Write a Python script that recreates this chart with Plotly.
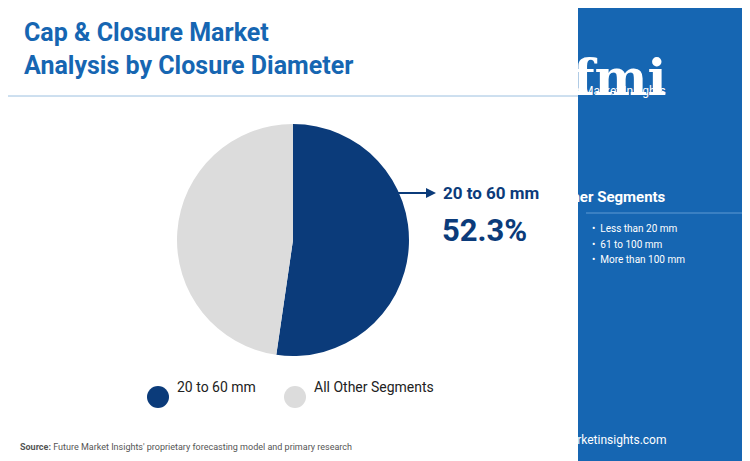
import plotly.graph_objects as go

labels = ["20 to 60 mm", "All Other Segments"]
values = [52.3, 47.7]
colors = ["#0b3b7a", "#dcdcdc"]
other_segments = ["Less than 20 mm", "61 to 100 mm", "More than 100 mm"]

W, H = 750, 461
def px(x): return x / W
def py(y): return 1 - y / H

fig = go.Figure()
cx, cy, r = 285, 232, 116
fig.add_trace(go.Pie(labels=labels, values=values, marker=dict(colors=colors, line=dict(width=0)),
                     sort=False, direction="clockwise", rotation=0, textinfo="none",
                     hoverinfo="label+percent", showlegend=False,
                     domain=dict(x=[px(cx - r), px(cx + r)], y=[py(cy + r), py(cy - r)])))

shapes = []
ann = []
shapes.append(dict(type="rect", xref="paper", yref="paper", x0=px(570), x1=1, y0=py(461), y1=1,
                   fillcolor="#1666b2", line=dict(width=0), layer="below"))
shapes.append(dict(type="line", xref="paper", yref="paper", x0=0, x1=px(570), y0=py(88), y1=py(88),
                   line=dict(color="#9cc0e0", width=1)))
for x0, x1, c in [(0, 190, "#7cb342"), (190, 380, "#e8572a"), (380, 570, "#8e2b8e")]:
    shapes.append(dict(type="rect", xref="paper", yref="paper", x0=px(x0), x1=px(x1), y0=0, y1=py(456),
                       fillcolor=c, line=dict(width=0)))
ann.append(dict(x=px(428), y=py(185), ax=-40, ay=0, xref="paper", yref="paper",
                axref="pixel", ayref="pixel", showarrow=True, arrowhead=2, arrowsize=1,
                arrowwidth=2, arrowcolor="#0b3b7a", text=""))
ann.append(dict(x=px(433), y=py(185), xref="paper", yref="paper", text=f"<b>{labels[0]}</b>",
                showarrow=False, xanchor="left", font=dict(family="Roboto", size=17, color="#0b3b7a")))
ann.append(dict(x=px(432), y=py(222), xref="paper", yref="paper", text=f"<b>{values[0]}%</b>",
                showarrow=False, xanchor="left", font=dict(family="Roboto", size=31, color="#0b3b7a")))
ann.append(dict(x=px(14), y=py(8), xref="paper", yref="paper", xanchor="left", yanchor="top",
                align="left", showarrow=False,
                text="<b>Cap & Closure Market<br>Analysis by Closure Diameter</b>",
                font=dict(family="Roboto", size=25, color="#1666b2")))
lx = [150, 287]
for i, (lab, c) in enumerate(zip(labels, colors)):
    shapes.append(dict(type="circle", xref="paper", yref="paper", x0=px(lx[i] - 11), x1=px(lx[i] + 11),
                       y0=py(400), y1=py(378), fillcolor=c, line=dict(width=0)))
    ann.append(dict(x=px(lx[i] + 17), y=py(389), xref="paper", yref="paper", xanchor="left",
                    showarrow=False, text=lab, font=dict(family="Roboto", size=14, color="#222")))
ann.append(dict(x=px(10), y=py(446), xref="paper", yref="paper", xanchor="left", showarrow=False,
                text="<b>Source:</b> Future Market Insights' proprietary forecasting model and primary research",
                font=dict(family="Roboto", size=9, color="#555")))
ann.append(dict(x=px(660), y=py(38), xref="paper", yref="paper", showarrow=False,
                text="<b>fmi</b>", font=dict(family="DejaVu Serif", size=50, color="white")))
ann.append(dict(x=px(660), y=py(74), xref="paper", yref="paper", showarrow=False,
                text="Future Market Insights", font=dict(family="Roboto", size=12, color="white")))
ann.append(dict(x=px(660), y=py(189), xref="paper", yref="paper", showarrow=False,
                text="<b>Other Segments</b>", font=dict(family="Roboto", size=15, color="white")))
shapes.append(dict(type="line", xref="paper", yref="paper", x0=px(578), x1=px(742), y0=py(205), y1=py(205),
                   line=dict(color="#5f9ad3", width=1)))
for i, s in enumerate(other_segments):
    ann.append(dict(x=px(582), y=py(221 + 15 * i), xref="paper", yref="paper", xanchor="left",
                    showarrow=False, text="•  " + s, font=dict(family="Roboto", size=10, color="white")))
ann.append(dict(x=px(660), y=py(441), xref="paper", yref="paper", showarrow=False,
                text="www.futuremarketinsights.com", font=dict(family="Roboto", size=12, color="white")))

fig.update_layout(width=W, height=H, margin=dict(l=0, r=0, t=0, b=0), paper_bgcolor="white",
                  plot_bgcolor="white", shapes=shapes, annotations=ann)
fig.write_html("out.html")
